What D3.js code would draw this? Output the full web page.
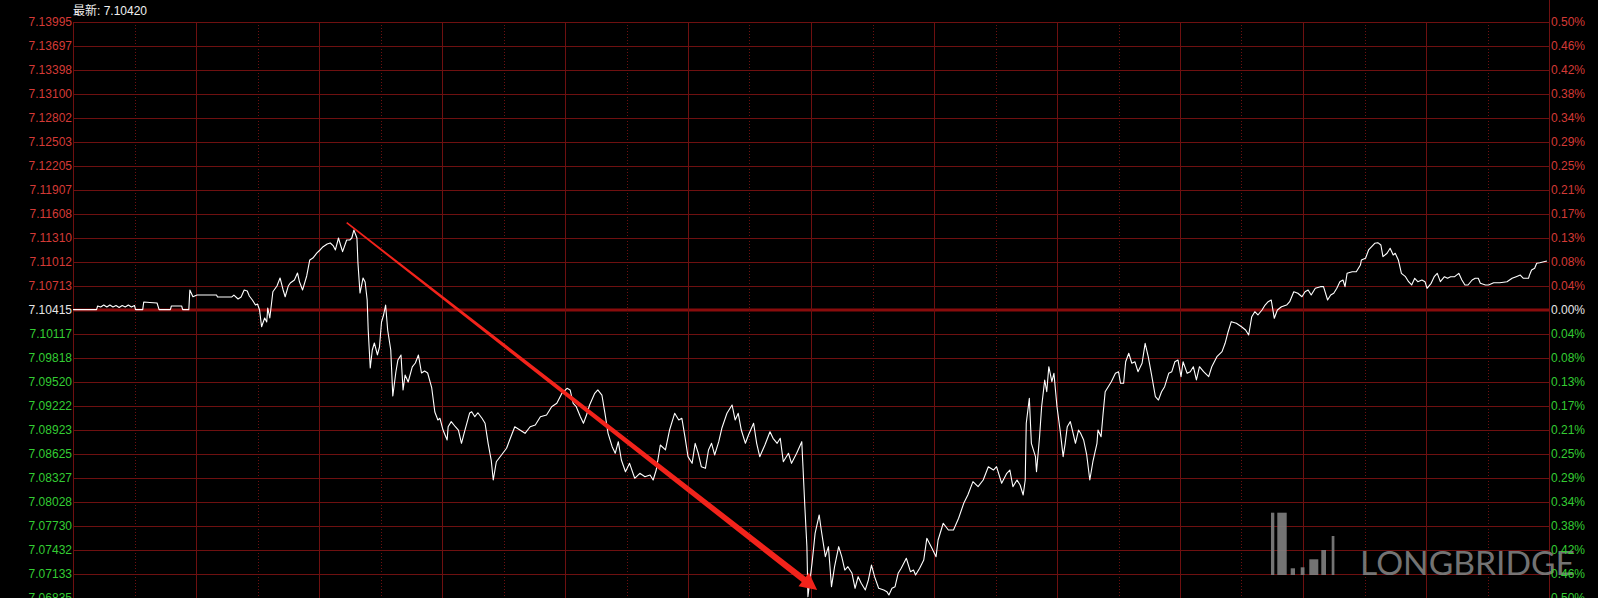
<!DOCTYPE html>
<html><head><meta charset="utf-8">
<script src="https://cdn.jsdelivr.net/npm/d3@7"></script>
<style>html,body{margin:0;padding:0;background:#000;overflow:hidden}</style>
</head><body><svg id="c" width="1598" height="598"></svg>
<script>
// ---------- data ----------
const titleText = "最新: 7.10420";
const prevClose = 7.10415;
const leftTicks = ["7.13995","7.13697","7.13398","7.13100","7.12802","7.12503","7.12205","7.11907","7.11608","7.11310","7.11012","7.10713","7.10415","7.10117","7.09818","7.09520","7.09222","7.08923","7.08625","7.08327","7.08028","7.07730","7.07432","7.07133","7.06835"];
const rightTicks = ["0.50%","0.46%","0.42%","0.38%","0.34%","0.29%","0.25%","0.21%","0.17%","0.13%","0.08%","0.04%","0.00%","0.04%","0.08%","0.13%","0.17%","0.21%","0.25%","0.29%","0.34%","0.38%","0.42%","0.46%","0.50%"];
const sessionMinutes = 1440, majorStep = 120, minorStep = 60;
const times = [0,23,24,27,30,33,36,39,42,45,48,51,54,57,60,61,68,69,75,82,84,95,96,106,107,113,114,117,121,140,141,155,157,161,164,167,170,172,175,178,180,182,184,187,189,190,192,195,199,202,205,207,210,212,216,219,221,224,228,231,234,238,241,244,248,251,254,256,259,261,263,267,270,272,274,277,278,280,283,285,287,288,290,292,294,297,299,301,303,305,307,310,312,315,317,320,322,324,327,331,334,337,340,343,346,350,353,356,358,361,365,366,369,373,376,379,382,387,389,392,395,399,402,405,408,410,413,418,423,426,431,436,441,446,451,456,462,467,472,477,482,485,488,491,495,498,501,504,509,512,516,519,522,526,529,532,535,539,543,548,553,558,563,566,569,573,578,582,587,591,594,597,600,604,607,610,613,617,620,623,626,630,633,638,643,646,649,652,656,659,664,667,670,675,680,683,687,690,693,698,701,706,711,712,714,716,717,721,724,728,730,734,737,740,743,747,750,753,756,760,763,766,769,773,776,779,782,786,791,794,796,799,802,805,808,813,817,820,822,826,830,833,838,842,844,849,854,859,864,869,873,878,883,888,893,898,901,906,911,914,917,921,924,927,929,930,933,935,939,940,943,945,948,950,952,955,957,960,963,966,968,970,973,975,978,981,983,986,989,992,995,999,1000,1003,1005,1007,1010,1013,1017,1020,1022,1025,1027,1030,1033,1036,1039,1043,1046,1049,1052,1056,1059,1062,1065,1069,1072,1075,1078,1081,1083,1087,1090,1093,1096,1099,1103,1108,1111,1116,1121,1124,1127,1130,1135,1140,1144,1147,1150,1153,1156,1160,1163,1166,1169,1172,1175,1179,1184,1187,1191,1195,1199,1202,1205,1208,1212,1217,1220,1224,1227,1230,1233,1236,1239,1241,1243,1248,1252,1256,1257,1261,1264,1267,1270,1273,1276,1278,1282,1285,1288,1290,1293,1296,1300,1303,1306,1309,1312,1316,1319,1321,1325,1328,1331,1334,1338,1341,1344,1348,1352,1355,1358,1361,1365,1368,1371,1373,1378,1381,1386,1392,1399,1404,1408,1412,1415,1420,1421,1423,1426,1428,1431,1438];
const prices = [7.10420,7.10420,7.10465,7.10452,7.10477,7.10452,7.10477,7.10452,7.10471,7.10446,7.10471,7.10452,7.10477,7.10452,7.10471,7.10420,7.10420,7.10514,7.10508,7.10502,7.10420,7.10420,7.10465,7.10465,7.10420,7.10420,7.10664,7.10580,7.10601,7.10601,7.10577,7.10577,7.10601,7.10552,7.10577,7.10664,7.10651,7.10589,7.10539,7.10477,7.10490,7.10415,7.10207,7.10316,7.10266,7.10440,7.10316,7.10642,7.10713,7.10813,7.10664,7.10580,7.10713,7.10751,7.10788,7.10875,7.10763,7.10664,7.10838,7.11037,7.11061,7.11124,7.11161,7.11202,7.11235,7.11248,7.11211,7.11161,7.11310,7.11223,7.11140,7.11285,7.11285,7.11310,7.11409,7.11310,7.10999,7.10626,7.10813,7.10763,7.10539,7.10166,7.09694,7.09918,7.10005,7.09856,7.09955,7.10266,7.10353,7.10477,7.10166,7.09918,7.09346,7.09644,7.09794,7.09856,7.09421,7.09607,7.09520,7.09707,7.09756,7.09856,7.09632,7.09657,7.09632,7.09446,7.09147,7.09048,7.09069,7.08923,7.08799,7.08964,7.09027,7.08964,7.08923,7.08758,7.08902,7.09135,7.09151,7.09089,7.09138,7.09069,7.09007,7.08758,7.08550,7.08302,7.08529,7.08613,7.08696,7.08799,7.08964,7.08923,7.08882,7.08964,7.08985,7.09089,7.09110,7.09213,7.09255,7.09380,7.09442,7.09421,7.09255,7.09213,7.09089,7.09007,7.09110,7.09234,7.09380,7.09421,7.09358,7.09131,7.08882,7.08716,7.08634,7.08778,7.08550,7.08405,7.08509,7.08323,7.08385,7.08343,7.08364,7.08302,7.08426,7.08737,7.08675,7.08923,7.09131,7.09048,7.09069,7.08840,7.08592,7.08509,7.08758,7.08634,7.08467,7.08447,7.08675,7.08758,7.08613,7.08778,7.08945,7.09131,7.09234,7.09048,7.09131,7.08923,7.08758,7.08861,7.09007,7.08758,7.08592,7.08737,7.08902,7.08820,7.08758,7.08820,7.08529,7.08634,7.08509,7.08634,7.08778,7.08509,7.07970,7.07473,7.06851,7.07266,7.07639,7.07867,7.07680,7.07349,7.07473,7.06976,7.07224,7.07473,7.07349,7.07183,7.07224,7.07142,7.06956,7.07100,7.07018,7.06935,7.07059,7.07245,7.07100,7.06956,7.06935,7.06914,7.06872,7.06956,7.06976,7.07142,7.07204,7.07329,7.07162,7.07183,7.07121,7.07204,7.07307,7.07577,7.07453,7.07349,7.07556,7.07764,7.07680,7.07680,7.07826,7.08012,7.08115,7.08281,7.08219,7.08302,7.08467,7.08426,7.08467,7.08261,7.08385,7.08426,7.08219,7.08302,7.08240,7.08115,7.08302,7.09007,7.09317,7.08758,7.08592,7.08405,7.08840,7.09213,7.09545,7.09399,7.09710,7.09524,7.09628,7.09213,7.08923,7.08592,7.08758,7.08964,7.09027,7.08923,7.08758,7.08923,7.08882,7.08799,7.08613,7.08302,7.08529,7.08758,7.08923,7.08840,7.09131,7.09399,7.09462,7.09524,7.09628,7.09648,7.09504,7.09504,7.09772,7.09877,7.09753,7.09772,7.09648,7.09753,7.10001,7.09835,7.09628,7.09337,7.09296,7.09399,7.09462,7.09628,7.09648,7.09772,7.09794,7.09586,7.09772,7.09628,7.09648,7.09710,7.09545,7.09710,7.09648,7.09586,7.09710,7.09835,7.09897,7.10001,7.10145,7.10270,7.10250,7.10207,7.10166,7.10104,7.10332,7.10394,7.10353,7.10415,7.10477,7.10518,7.10539,7.10312,7.10415,7.10456,7.10477,7.10518,7.10642,7.10623,7.10580,7.10642,7.10664,7.10601,7.10685,7.10705,7.10705,7.10539,7.10601,7.10623,7.10685,7.10767,7.10788,7.10705,7.10871,7.10891,7.10891,7.10974,7.11037,7.11058,7.11161,7.11202,7.11244,7.11252,7.11223,7.11078,7.11120,7.11182,7.11099,7.11120,7.11037,7.10871,7.10829,7.10767,7.10726,7.10809,7.10767,7.10788,7.10767,7.10685,7.10747,7.10829,7.10871,7.10767,7.10829,7.10809,7.10829,7.10829,7.10871,7.10788,7.10726,7.10726,7.10788,7.10809,7.10809,7.10747,7.10726,7.10726,7.10754,7.10754,7.10767,7.10809,7.10829,7.10850,7.10809,7.10809,7.10850,7.10912,7.10933,7.10996,7.11003,7.11024];
// annotation arrow (time, price)
const arrowFrom = [267, 7.11500];
const arrowTo = [726, 7.06935];
const watermarkText = "LONGBRIDGE";

// ---------- drawing ----------
const svg = d3.select("#c");
svg.append("rect").attr("width",1598).attr("height",598).attr("fill","#000");
const L = 73, R = 1549, T = 22, B = 598;
const tickVals = leftTicks.map(Number);
const x = d3.scaleLinear().domain([0, sessionMinutes]).range([L, R]);
const y = d3.scaleLinear().domain([d3.min(tickVals), d3.max(tickVals)]).range([B, T]);
const gridCol = "#6e1010";
const font = "'Liberation Sans', Arial, 'Noto Sans CJK SC', sans-serif";
const redCol = "#d43a36", greenCol = "#33cc33", whiteCol = "#e6e6e6";

const grid = svg.append("g");
// horizontal grid
tickVals.forEach(v => {
  const yy = Math.round(y(v));
  const center = Math.abs(v - prevClose) < 1e-6;
  grid.append("line").attr("x1", L).attr("x2", R)
    .attr("y1", center ? yy : yy + 0.5).attr("y2", center ? yy : yy + 0.5)
    .attr("stroke", center ? "#8a0c0c" : gridCol).attr("stroke-width", center ? 3 : 1);
});
// vertical grid
d3.range(0, sessionMinutes + 1, minorStep).forEach(t => {
  const xx = Math.round(x(t)) + 0.5;
  const major = t % majorStep === 0;
  grid.append("line").attr("x1", xx).attr("x2", xx)
    .attr("y1", (t === sessionMinutes) ? 0 : T).attr("y2", B)
    .attr("stroke", gridCol).attr("stroke-width", 1)
    .attr("stroke-dasharray", major ? null : "1,2");
});

// watermark
const wm = svg.append("g").attr("fill", "#808080").attr("opacity", 0.9);
[[1271,512.7,3.3],[1277.3,512.7,9.4],[1290.7,568.3,4.3],[1300.7,567.3,3.8],[1309.3,559.3,9],[1321.3,550,4.7],[1331.7,536,2.7]]
  .forEach(b => wm.append("rect").attr("x", b[0]).attr("y", b[1]).attr("width", b[2]).attr("height", 575 - b[1]));
wm.append("text").attr("x", 1360).attr("y", 575).attr("font-family", "Lato, 'Open Sans', sans-serif")
  .attr("font-size", 32).attr("textLength", 215).attr("lengthAdjust", "spacingAndGlyphs").text(watermarkText);

// price line
const line = d3.line().x(d => x(d[0])).y(d => y(d[1]));
svg.append("path").datum(times.map((t, i) => [t, prices[i]]))
  .attr("d", line).attr("fill", "none").attr("stroke", "#ffffff")
  .attr("stroke-width", 1.1).attr("stroke-linejoin", "round");

// arrow annotation
(function(){
  const x0 = x(arrowFrom[0]), y0 = y(arrowFrom[1]);
  const x1 = x(arrowTo[0]), y1 = y(arrowTo[1]);
  const dx = x1 - x0, dy = y1 - y0, len = Math.hypot(dx, dy);
  const ux = dx / len, uy = dy / len, nx = -uy, ny = ux;
  const headLen = 17, headW = 8.5, w0 = 0.8, w1 = 3.2;
  const bx = x1 - ux * headLen, by = y1 - uy * headLen;
  const pts = [
    [x0 + nx*w0, y0 + ny*w0], [bx + nx*w1, by + ny*w1], [bx + nx*headW, by + ny*headW],
    [x1, y1], [bx - nx*headW, by - ny*headW], [bx - nx*w1, by - ny*w1], [x0 - nx*w0, y0 - ny*w0]
  ];
  svg.append("polygon").attr("points", pts.map(p => p.join(",")).join(" ")).attr("fill", "#f2231b");
})();

// axis labels
const labels = svg.append("g").attr("font-family", font).attr("font-size", 12);
tickVals.forEach((v, i) => {
  const col = Math.abs(v - prevClose) < 1e-6 ? whiteCol : (v > prevClose ? redCol : greenCol);
  labels.append("text").attr("x", 72).attr("y", y(v)).attr("dy", "0.36em")
    .attr("text-anchor", "end").attr("fill", col).text(leftTicks[i]);
  labels.append("text").attr("x", 1551).attr("y", y(v)).attr("dy", "0.36em")
    .attr("text-anchor", "start").attr("fill", col).text(rightTicks[i]);
});
// title
svg.append("text").attr("x", 73).attr("y", 15).attr("font-family", font).attr("font-size", 12)
  .attr("fill", "#f0f0f0").text(titleText);
</script>
</body></html>
